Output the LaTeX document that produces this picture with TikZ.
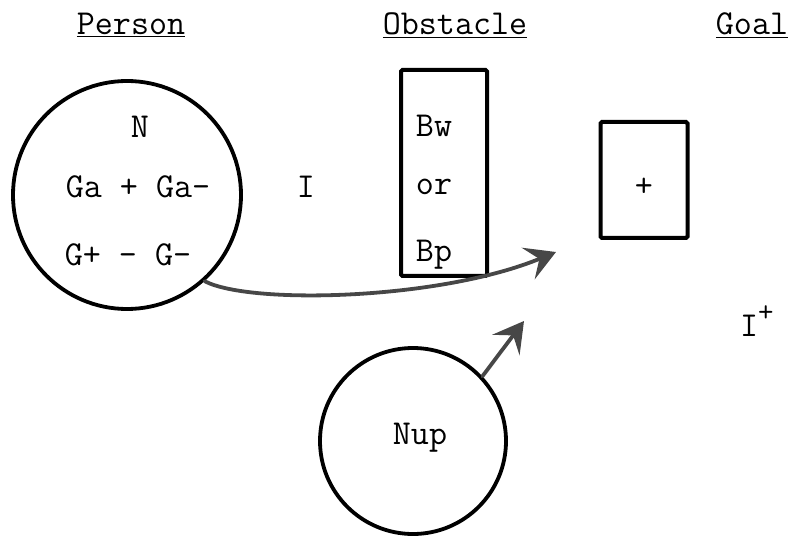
\documentclass[tikz,border=0pt]{standalone}
\usepackage{fontspec}
\usetikzlibrary{arrows.meta}
\begin{document}
\begin{tikzpicture}[x=1pt,y=-1pt,
  every node/.style={font=\ttfamily\fontsize{35}{40}\selectfont, inner sep=0pt},
  title/.style={anchor=base},
  lbl/.style={anchor=center},
  ring/.style={draw, circle, line width=3.8pt, inner sep=0pt},
  box/.style={draw, rectangle, line width=4pt, rounded corners=1.5pt},
  link/.style={draw=black!72, line width=3.8pt, line cap=round,
    -{Stealth[length=30pt,width=34pt,inset=12pt]}}]
\useasboundingbox (0,0) rectangle (800,537);

% column headings
\node[title] (tp) at (131,35) {\underline{Person}};
\node[title] (to) at (455,35) {\underline{Obstacle}};
\node[title] (tg) at (752,35) {\underline{Goal}};

% person
\node[ring, minimum size=228pt] (p) at (127,195) {};
\node[lbl] (pn) at (140,127) {N};
\node[lbl] (pa) at (138,187) {Ga + Ga-};
\node[lbl] (pg) at (128,255) {G+ - G-};

\node[lbl] (i) at (306,187) {I};

% obstacle
\node[box, minimum width=86pt, minimum height=206pt] (ob) at (444,173) {};
\node[lbl] (bw) at (434,126) {Bw};
\node[lbl] (or) at (434,187) {or};
\node[lbl] (bp) at (434,255) {Bp};

% goal
\node[box, minimum width=87pt, minimum height=116pt] (g) at (644,180) {};
\node[lbl] (gp) at (644,187) {+};

\node[anchor=base west] (ip) at (740,336) {I\raisebox{15pt}{\fontsize{30}{32}\selectfont+}};

% path of the person towards the goal
\coordinate (aend) at (556,252);
\draw[link] (p.-48) .. controls (250,305) and (440,300) .. (aend);

% unperceived need
\node[ring, minimum size=186pt] (n) at (413,441) {};
\node[lbl] (nl) at (420,438) {Nup};
\coordinate (nend) at (524,321);
\draw[link] (n.43) -- (nend);
\end{tikzpicture}
\end{document}
